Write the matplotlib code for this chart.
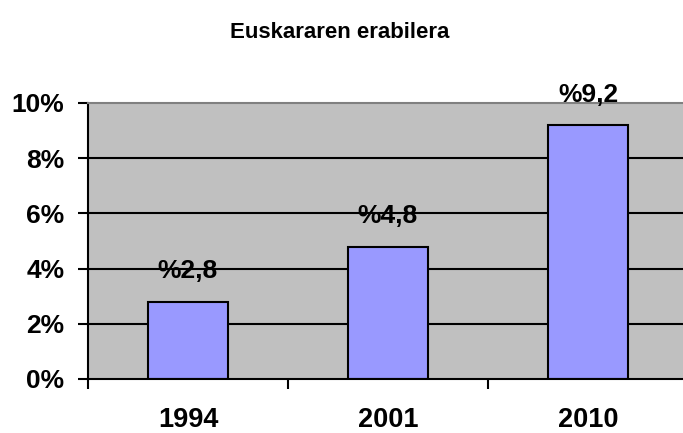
import matplotlib.pyplot as plt
import matplotlib.ticker as mticker

plt.rcParams['font.family'] = ['Liberation Sans', 'DejaVu Sans']

years = ["1994", "2001", "2010"]
values = [2.8, 4.8, 9.2]
labels = ["%2,8", "%4,8", "%9,2"]
yticks = [0, 2, 4, 6, 8, 10]

fig = plt.figure(figsize=(6.83, 4.33), dpi=100)
ax = fig.add_axes([88 / 683, 54 / 433, 600 / 683, 276 / 433])
ax.set_facecolor('#C0C0C0')

for y in yticks[1:-1]:
    ax.axhline(y, color='black', linewidth=1.5, zorder=1)

x = range(len(years))
ax.bar(x, values, width=0.4, color='#9999FF', edgecolor='black', linewidth=1.5, zorder=2)

for xi, v, lab in zip(x, values, labels):
    ax.annotate(lab, (xi, v), xytext=(0, 22), textcoords='offset points',
                ha='center', va='center', fontsize=19, fontweight='bold', zorder=3)

ax.set_xlim(-0.5, 2.5)
ax.set_ylim(0, 10)
ax.set_yticks(yticks)
ax.set_yticklabels([f"{t}%" for t in yticks])
ax.set_xticks(list(x))
ax.set_xticklabels(years)
ax.xaxis.set_minor_locator(mticker.FixedLocator([-0.5, 0.5, 1.5]))
ax.tick_params(axis='x', which='major', length=0, pad=20, labelsize=19.5)
ax.tick_params(axis='x', which='minor', length=7, width=1.5, direction='out')
ax.tick_params(axis='y', length=7, width=1.5, direction='out', pad=10, labelsize=19)
for lab in ax.get_xticklabels() + ax.get_yticklabels():
    lab.set_fontweight('bold')

ax.spines['top'].set_color('#808080')
ax.spines['top'].set_linewidth(1.5)
ax.spines['right'].set_visible(False)
ax.spines['left'].set_linewidth(1.5)
ax.spines['bottom'].set_linewidth(1.5)

fig.text(340 / 683, 1 - 32 / 433, "Euskararen erabilera", ha='center', va='center',
         fontsize=16, fontweight='bold')

fig.savefig('out.png', dpi=100)
